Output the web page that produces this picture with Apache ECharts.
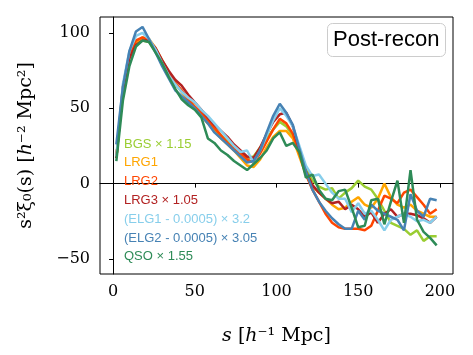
<!DOCTYPE html>
<html>
<head>
<meta charset="utf-8">
<script src="https://cdn.jsdelivr.net/npm/echarts@6/dist/echarts.min.js"></script>
<style>
  html, body { margin: 0; padding: 0; background: #fff; }
  #chart { width: 473px; height: 355px; }
</style>
</head>
<body>
<div id="chart"></div>
<script>
// separation bins (h^-1 Mpc)
const sBins = [2, 6, 10, 14, 18, 22, 26, 30, 34, 38, 42, 46, 50, 54, 58, 62, 66, 70, 74, 78,
  82, 86, 90, 94, 98, 102, 106, 110, 114, 118, 122, 126, 130, 134, 138, 142, 146, 150, 154, 158,
  162, 166, 170, 174, 178, 182, 186, 190, 194, 198]

const bgs = [17, 63, 84, 93, 95, 94, 88, 80, 73, 66, 61, 56, 51, 46, 41, 37, 32, 28, 25, 21,
  17, 18, 24, 30, 36, 41, 38, 32, 22, 10, 2, -2, -4, -3, -10, -6, -3, 2, -2, -4,
  -10, -18, -26, -28, -30, -34, -31, -38, -35, -35]
const lrg1 = [17, 64, 85, 94, 97, 96, 90, 82, 74, 67, 61, 55, 50, 45, 40, 35, 30, 26, 22, 17,
  12, 11, 16, 24, 31, 35, 35, 30, 18, 6, -2, -6, -10, -14, -17, -16, -12, -9, -14, -16,
  -10, 0, -9, -14, -16, -14, -18, -20, -22, -22]
const lrg2 = [17, 64, 86, 95, 97, 95, 89, 81, 74, 67, 62, 56, 51, 47, 42, 37, 32, 27, 23, 20,
  16, 14, 20, 28, 36, 43, 40, 33, 20, 6, -4, -12, -20, -26, -29, -30, -30, -30, -31, -28,
  -18, -8, -10, -13, -6, -4, -9, -14, -20, -17]
const lrg3 = [17, 62, 83, 92, 95, 95, 90, 82, 75, 69, 65, 59, 54, 49, 44, 39, 35, 31, 26, 22,
  18, 17, 24, 33, 41, 46, 47, 38, 22, 8, -1, -6, -10, -13, -12, -17, -14, -17, -22, -19,
  -26, -20, -17, -22, -20, -20, -21, -23, -26, -22]
const elg1 = [18, 66, 88, 98, 100, 96, 89, 80, 72, 66, 61, 57, 54, 49, 45, 40, 35, 30, 25, 21,
  22, 14, 22, 32, 42, 50, 45, 38, 25, 12, 5, 6, 0, -6, -10, -10, -19, -13, -20, -18,
  -24, -31, -24, -22, -20, -22, -25, -24, -26, -22]
const elg2 = [26, 64, 88, 101, 104, 96, 87, 78, 70, 62, 58, 54, 50, 45, 40, 34, 30, 26, 22, 18,
  14, 15, 22, 34, 45, 53, 47, 39, 23, 8, -4, -12, -18, -23, -27, -30, -30, -18, -24, -14,
  -18, -20, -22, -24, -31, -7, -18, -22, -10, -11]
const qso = [15, 55, 78, 91, 95, 94, 87, 80, 71, 63, 56, 52, 49, 44, 30, 27, 22, 19, 15, 12,
  9, 13, 17, 22, 30, 34, 25, 27, 21, 4, 6, -4, -10, -11, -5, -4, -16, -29, -28, -11,
  -10, -27, -12, 2, -26, 9, -24, -32, -36, -41]

const names = ['BGS × 1.15', 'LRG1', 'LRG2', 'LRG3 × 1.05',
  '(ELG1 - 0.0005) × 3.2', '(ELG2 - 0.0005) × 3.05', 'QSO × 1.55']
const colors = ['#9acd32', '#ffa500', '#ff4500', '#b22222', '#87ceeb', '#4682b4', '#2e8b57']
const values = [bgs, lrg1, lrg2, lrg3, elg1, elg2, qso]
const xTicks = [0, 50, 100, 150, 200]
const yTicks = [-50, 0, 50, 100]

const myChart = echarts.init(document.getElementById('chart'))
const serif = 'DejaVu Serif'

myChart.setOption({
  animation: false,
  title: {
    text: 'Post-recon',
    left: 327,
    top: 23,
    padding: [6, 6, 6, 6],
    borderColor: '#cccccc',
    borderWidth: 1,
    borderRadius: 5,
    textStyle: {
      fontFamily: 'Liberation Sans',
      fontWeight: 'normal',
      fontSize: 22,
      lineHeight: 22,
      color: '#000'
    }
  },
  legend: {
    orient: 'vertical',
    left: 114,
    top: 132,
    itemWidth: 0,
    itemHeight: 14,
    itemGap: 4.8,
    icon: 'rect',
    selectedMode: false,
    textStyle: {
      fontFamily: 'Liberation Sans',
      fontSize: 13,
      lineHeight: 14
    },
    data: names.map((n, i) => ({ name: n, textStyle: { color: colors[i] }, itemStyle: { opacity: 0 } }))
  },
  grid: {
    left: 100,
    right: 20,
    top: 17,
    bottom: 81,
    show: true,
    borderColor: '#000',
    borderWidth: 1
  },
  xAxis: {
    type: 'value',
    min: -8,
    max: 208,
    name: '{i|s} [{i|h}⁻¹ Mpc]',
    nameLocation: 'middle',
    nameGap: 53,
    nameTextStyle: {
      fontFamily: serif,
      fontSize: 19,
      color: '#000',
      rich: { i: { fontFamily: serif, fontSize: 19, fontStyle: 'italic' } }
    },
    splitLine: { show: false },
    axisLine: { show: true, lineStyle: { color: '#000', width: 1 } },
    axisTick: { show: true, length: 4, lineStyle: { color: '#000' }, customValues: xTicks },
    axisLabel: {
      customValues: xTicks,
      margin: 10,
      fontFamily: serif,
      fontSize: 16,
      color: '#000'
    }
  },
  yAxis: {
    type: 'value',
    min: -60,
    max: 110.6,
    name: 's²ξ₀(s) [{i|h}⁻² Mpc²]',
    nameLocation: 'middle',
    nameGap: 64,
    nameTextStyle: {
      fontFamily: serif,
      fontSize: 19,
      color: '#000',
      rich: { i: { fontFamily: serif, fontSize: 19, fontStyle: 'italic' } }
    },
    splitLine: { show: false },
    axisLine: { show: true, lineStyle: { color: '#000', width: 1 } },
    axisTick: { show: true, length: 4, lineStyle: { color: '#000' }, customValues: yTicks },
    axisLabel: {
      customValues: yTicks,
      margin: 10,
      fontFamily: serif,
      fontSize: 16,
      color: '#000',
      formatter: v => (v < 0 ? '\u2212' + Math.abs(v) : String(v))
    }
  },
  series: values.map((vals, i) => ({
    name: names[i],
    type: 'line',
    symbol: 'none',
    color: colors[i],
    lineStyle: { width: 2.5, color: colors[i] },
    data: sBins.map((s, k) => [s, vals[k]])
  }))
})
</script>
</body>
</html>
